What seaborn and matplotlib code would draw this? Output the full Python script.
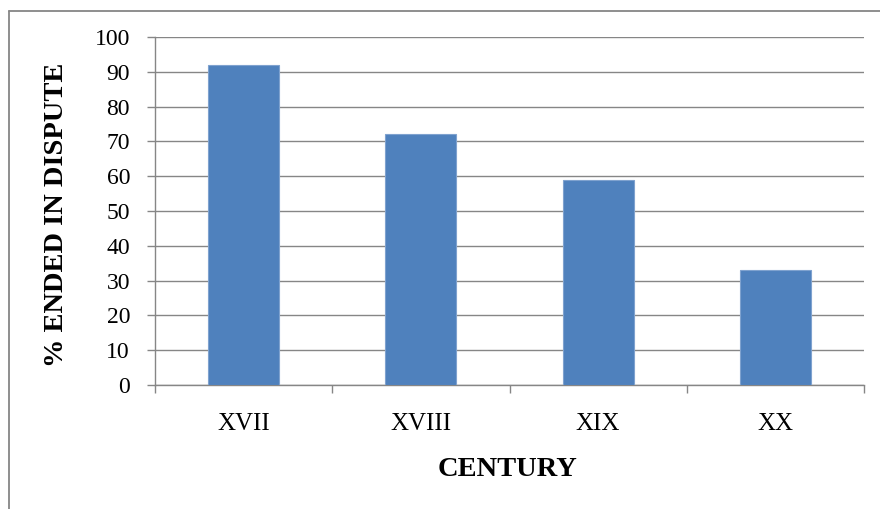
import matplotlib
matplotlib.use("Agg")
import matplotlib.pyplot as plt
from matplotlib.lines import Line2D
import seaborn as sns
import pandas as pd

# Share of cases that ended in dispute, by century
centuries = ["XVII", "XVIII", "XIX", "XX"]
pct_disputed = [92, 72, 59, 33]
y_ticks = [0, 10, 20, 30, 40, 50, 60, 70, 80, 90, 100]

df = pd.DataFrame({"century": centuries, "pct": pct_disputed})

sns.set_theme(style="white")
plt.rcParams["font.family"] = ["Liberation Serif", "DejaVu Serif"]

GRID = "#868686"
BAR = "#4F81BD"

fig = plt.figure(figsize=(8.8, 5.09), dpi=100)
W, H = 880, 509
ax = fig.add_axes([155 / W, (H - 385) / H, 709 / W, 348 / H])

sns.barplot(data=df, x="century", y="pct", color=BAR, width=0.4,
            saturation=1, edgecolor="#7FA2CF", linewidth=0.8, ax=ax, zorder=3)

ax.set_xlim(-0.5, len(centuries) - 0.5)
ax.set_ylim(0, 100)
ax.set_yticks(y_ticks)
ax.set_yticklabels([str(v) for v in y_ticks], fontsize=17, color="#000000")
ax.yaxis.grid(True, color=GRID, linewidth=1.0, zorder=0)
ax.xaxis.grid(False)
ax.set_axisbelow(True)

# category labels centred, tick marks on category boundaries
ax.set_xticks(range(len(centuries)))
ax.set_xticklabels(centuries, fontsize=18, color="#000000")
ax.set_xticks([i - 0.5 for i in range(len(centuries) + 1)], minor=True)
ax.tick_params(axis="x", which="major", length=0, pad=20)
ax.tick_params(axis="x", which="minor", length=6, width=1, color=GRID, direction="out")
ax.tick_params(axis="y", which="major", length=6, width=1, color=GRID, direction="out", pad=12)
ax.tick_params(left=True, bottom=True)
ax.tick_params(axis="x", which="minor", bottom=True)

for side in ("top", "right"):
    ax.spines[side].set_visible(False)
for side in ("left", "bottom"):
    ax.spines[side].set_color(GRID)
    ax.spines[side].set_linewidth(1.0)

ax.set_xlabel("CENTURY", fontsize=20.5, fontweight="bold", color="#000000")
ax.xaxis.set_label_coords((507.5 - 155) / 709, (385 - 470) / 348)
ax.xaxis.label.set_va("center")
ax.set_ylabel("% ENDED IN DISPUTE", fontsize=20.5, fontweight="bold", color="#000000")
ax.yaxis.set_label_coords((56.7 - 155) / 709, (385 - 215) / 348)
ax.yaxis.label.set_va("center")

# chart-area outline (left and top edges)
fig.add_artist(Line2D([9 / W, 9 / W], [0, 1 - 11 / H], transform=fig.transFigure,
                      color=GRID, linewidth=1.3))
fig.add_artist(Line2D([9 / W, 1], [1 - 11 / H, 1 - 11 / H], transform=fig.transFigure,
                      color=GRID, linewidth=1.3))

fig.savefig("out.png", dpi=100, facecolor="white")
